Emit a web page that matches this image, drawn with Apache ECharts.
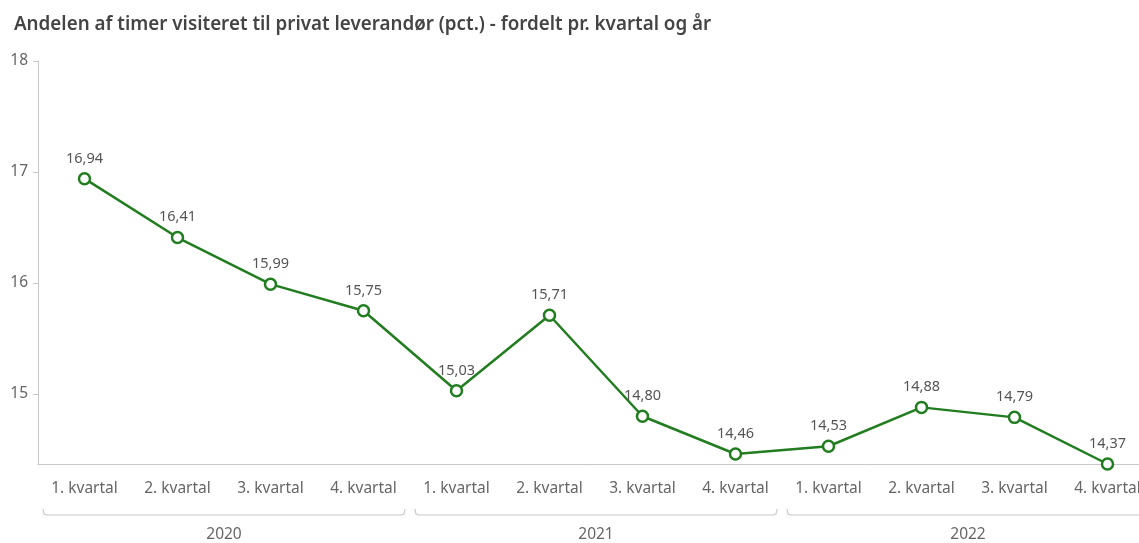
<!DOCTYPE html>
<html><head><meta charset="utf-8">
<script src="https://cdn.jsdelivr.net/npm/echarts@6/dist/echarts.min.js"></script>
<style>html,body{margin:0;padding:0;background:#fff}#c{width:1139px;height:543px}</style>
</head><body><div id="c"></div>
<script>
const quarters = ['1. kvartal','2. kvartal','3. kvartal','4. kvartal','1. kvartal','2. kvartal','3. kvartal','4. kvartal','1. kvartal','2. kvartal','3. kvartal','4. kvartal'];
const years = ['2020','2021','2022'];
const yearSpans = [[0,3],[4,7],[8,11]];
const values = [16.94,16.41,15.99,15.75,15.03,15.71,14.80,14.46,14.53,14.88,14.79,14.37];
const yTicks = [15,16,17,18];
const yMax = 18;
const yMin = Math.min(...values);

const chart = echarts.init(document.getElementById('c'));
const FONT = 'Noto Sans';
chart.setOption({
  animation:false,
  title:{text:'Andelen af timer visiteret til privat leverandør (pct.) - fordelt pr. kvartal og år',
    left:9, top:10, textStyle:{fontFamily:FONT, fontSize:18.8, fontWeight:600, color:'#444'}},
  grid:{left:38, top:61, bottom:79, width:1116, outerBoundsMode:'none', containLabel:false},
  xAxis:[{type:'category', data:quarters, boundaryGap:true,
    axisLine:{lineStyle:{color:'#c8c8c8'}},
    axisTick:{alignWithLabel:true, length:6, lineStyle:{color:'#c8c8c8'}},
    axisLabel:{fontFamily:FONT, fontSize:15.5, color:'#666', margin:17, interval:0}},
   {type:'category', data:years, position:'bottom', offset:51, boundaryGap:true,
    axisLine:{show:false}, axisTick:{show:false},
    axisLabel:{fontFamily:FONT, fontSize:15.5, color:'#666', margin:12}}],
  yAxis:{type:'value', min:yMin, max:yMax,
    splitLine:{show:false},
    axisLine:{show:true, lineStyle:{color:'#c8c8c8'}},
    axisTick:{show:true, length:5, lineStyle:{color:'#c8c8c8'}, customValues:yTicks},
    axisLabel:{fontFamily:FONT, fontSize:15.5, color:'#666', margin:10, customValues:yTicks}},
  series:[{type:'line', data:values, symbol:'circle', symbolSize:11,
    lineStyle:{color:'#217d1f', width:2.5},
    itemStyle:{color:'#fff', borderColor:'#217d1f', borderWidth:2.5},
    label:{show:true, position:'top', distance:6, fontFamily:FONT, fontSize:14.5, color:'#555',
      formatter:p=>p.value.toFixed(2).replace('.',',')}},
   {type:'custom', data:yearSpans, silent:true, clip:false, encode:{x:[0,1]},
    renderItem:(params, api)=>{
      const band = api.size([1,0])[0];
      const p1 = api.coord([api.value(0), yMin]);
      const p2 = api.coord([api.value(1), yMin]);
      const x1 = p1[0]-band/2+5, x2 = p2[0]+band/2-5, y = p1[1]+51;
      return {type:'polyline', shape:{points:[[x1,y-6],[x1+1,y-1],[x1+4,y],[x2-4,y],[x2-1,y-1],[x2,y-6]]},
        style:{stroke:'#c8c8c8', lineWidth:1.2, fill:null}};
    }}]
});
</script></body></html>
